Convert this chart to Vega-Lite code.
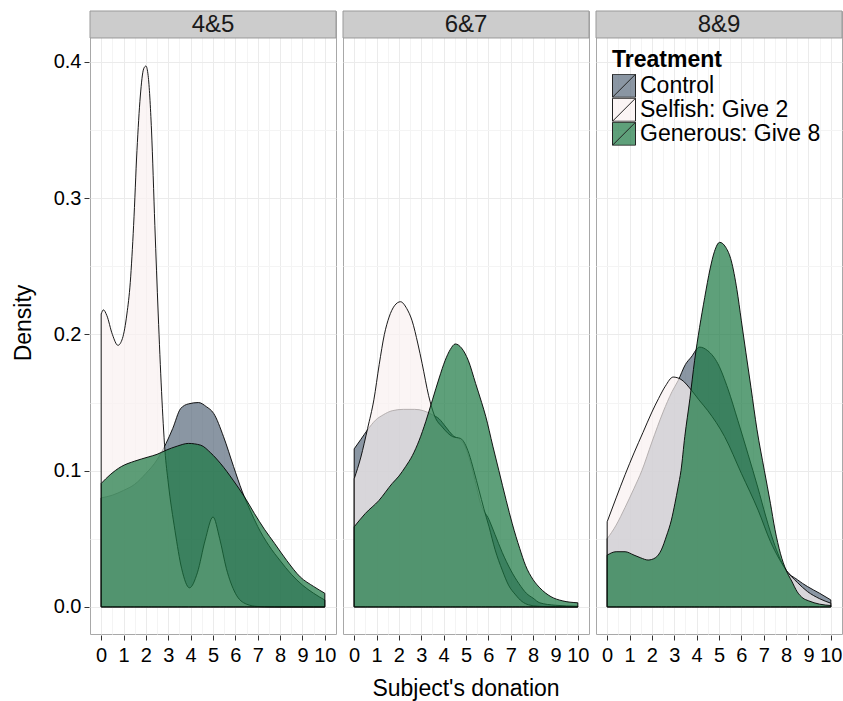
{
  "$schema": "https://vega.github.io/schema/vega-lite/v6.json",
  "padding": {"left": 12, "top": 10, "right": 3, "bottom": 0},
  "autosize": {"type": "pad"},
  "background": "white",
  "config": {
    "font": "Liberation Sans",
    "view": {"stroke": "#a8a8a8", "strokeWidth": 1},
    "axis": {"labelFont": "Liberation Sans", "titleFont": "Liberation Sans"}
  },
  "data": {"values": [
    {"panel":"4&5","treatment":"Control","donation":0,"density":0.080},
    {"panel":"4&5","treatment":"Control","donation":0.5,"density":0.082},
    {"panel":"4&5","treatment":"Control","donation":1,"density":0.0855},
    {"panel":"4&5","treatment":"Control","donation":1.5,"density":0.090},
    {"panel":"4&5","treatment":"Control","donation":2,"density":0.098},
    {"panel":"4&5","treatment":"Control","donation":2.5,"density":0.108},
    {"panel":"4&5","treatment":"Control","donation":2.9,"density":0.120},
    {"panel":"4&5","treatment":"Control","donation":3.2,"density":0.131},
    {"panel":"4&5","treatment":"Control","donation":3.55,"density":0.1455},
    {"panel":"4&5","treatment":"Control","donation":3.9,"density":0.149},
    {"panel":"4&5","treatment":"Control","donation":4.35,"density":0.150},
    {"panel":"4&5","treatment":"Control","donation":4.7,"density":0.147},
    {"panel":"4&5","treatment":"Control","donation":5.03,"density":0.142},
    {"panel":"4&5","treatment":"Control","donation":5.47,"density":0.125},
    {"panel":"4&5","treatment":"Control","donation":5.92,"density":0.103},
    {"panel":"4&5","treatment":"Control","donation":6.3,"density":0.085},
    {"panel":"4&5","treatment":"Control","donation":6.66,"density":0.071},
    {"panel":"4&5","treatment":"Control","donation":7,"density":0.059},
    {"panel":"4&5","treatment":"Control","donation":7.5,"density":0.045},
    {"panel":"4&5","treatment":"Control","donation":8,"density":0.034},
    {"panel":"4&5","treatment":"Control","donation":8.5,"density":0.024},
    {"panel":"4&5","treatment":"Control","donation":9,"density":0.016},
    {"panel":"4&5","treatment":"Control","donation":9.5,"density":0.010},
    {"panel":"4&5","treatment":"Control","donation":10,"density":0.005},
    {"panel":"4&5","treatment":"Selfish: Give 2","donation":0,"density":0.215},
    {"panel":"4&5","treatment":"Selfish: Give 2","donation":0.1,"density":0.218},
    {"panel":"4&5","treatment":"Selfish: Give 2","donation":0.25,"density":0.214},
    {"panel":"4&5","treatment":"Selfish: Give 2","donation":0.5,"density":0.200},
    {"panel":"4&5","treatment":"Selfish: Give 2","donation":0.75,"density":0.192},
    {"panel":"4&5","treatment":"Selfish: Give 2","donation":0.95,"density":0.197},
    {"panel":"4&5","treatment":"Selfish: Give 2","donation":1.15,"density":0.215},
    {"panel":"4&5","treatment":"Selfish: Give 2","donation":1.3,"density":0.238},
    {"panel":"4&5","treatment":"Selfish: Give 2","donation":1.45,"density":0.280},
    {"panel":"4&5","treatment":"Selfish: Give 2","donation":1.6,"density":0.335},
    {"panel":"4&5","treatment":"Selfish: Give 2","donation":1.75,"density":0.375},
    {"panel":"4&5","treatment":"Selfish: Give 2","donation":1.9,"density":0.395},
    {"panel":"4&5","treatment":"Selfish: Give 2","donation":2,"density":0.397},
    {"panel":"4&5","treatment":"Selfish: Give 2","donation":2.1,"density":0.390},
    {"panel":"4&5","treatment":"Selfish: Give 2","donation":2.25,"density":0.350},
    {"panel":"4&5","treatment":"Selfish: Give 2","donation":2.4,"density":0.280},
    {"panel":"4&5","treatment":"Selfish: Give 2","donation":2.55,"density":0.215},
    {"panel":"4&5","treatment":"Selfish: Give 2","donation":2.7,"density":0.158},
    {"panel":"4&5","treatment":"Selfish: Give 2","donation":2.85,"density":0.115},
    {"panel":"4&5","treatment":"Selfish: Give 2","donation":3,"density":0.091},
    {"panel":"4&5","treatment":"Selfish: Give 2","donation":3.3,"density":0.056},
    {"panel":"4&5","treatment":"Selfish: Give 2","donation":3.6,"density":0.028},
    {"panel":"4&5","treatment":"Selfish: Give 2","donation":3.95,"density":0.014},
    {"panel":"4&5","treatment":"Selfish: Give 2","donation":4.3,"density":0.025},
    {"panel":"4&5","treatment":"Selfish: Give 2","donation":4.65,"density":0.049},
    {"panel":"4&5","treatment":"Selfish: Give 2","donation":5,"density":0.066},
    {"panel":"4&5","treatment":"Selfish: Give 2","donation":5.3,"density":0.050},
    {"panel":"4&5","treatment":"Selfish: Give 2","donation":5.6,"density":0.028},
    {"panel":"4&5","treatment":"Selfish: Give 2","donation":6,"density":0.010},
    {"panel":"4&5","treatment":"Selfish: Give 2","donation":6.5,"density":0.002},
    {"panel":"4&5","treatment":"Selfish: Give 2","donation":7,"density":0.0003},
    {"panel":"4&5","treatment":"Selfish: Give 2","donation":8,"density":0},
    {"panel":"4&5","treatment":"Selfish: Give 2","donation":9,"density":0},
    {"panel":"4&5","treatment":"Selfish: Give 2","donation":10,"density":0},
    {"panel":"4&5","treatment":"Generous: Give 8","donation":0,"density":0.0906},
    {"panel":"4&5","treatment":"Generous: Give 8","donation":0.4,"density":0.097},
    {"panel":"4&5","treatment":"Generous: Give 8","donation":0.9,"density":0.103},
    {"panel":"4&5","treatment":"Generous: Give 8","donation":1.5,"density":0.107},
    {"panel":"4&5","treatment":"Generous: Give 8","donation":2.1,"density":0.110},
    {"panel":"4&5","treatment":"Generous: Give 8","donation":2.5,"density":0.112},
    {"panel":"4&5","treatment":"Generous: Give 8","donation":2.9,"density":0.115},
    {"panel":"4&5","treatment":"Generous: Give 8","donation":3.4,"density":0.118},
    {"panel":"4&5","treatment":"Generous: Give 8","donation":3.9,"density":0.120},
    {"panel":"4&5","treatment":"Generous: Give 8","donation":4.45,"density":0.1187},
    {"panel":"4&5","treatment":"Generous: Give 8","donation":4.9,"density":0.113},
    {"panel":"4&5","treatment":"Generous: Give 8","donation":5.35,"density":0.105},
    {"panel":"4&5","treatment":"Generous: Give 8","donation":5.9,"density":0.093},
    {"panel":"4&5","treatment":"Generous: Give 8","donation":6.4,"density":0.081},
    {"panel":"4&5","treatment":"Generous: Give 8","donation":6.85,"density":0.0686},
    {"panel":"4&5","treatment":"Generous: Give 8","donation":7.3,"density":0.057},
    {"panel":"4&5","treatment":"Generous: Give 8","donation":7.75,"density":0.0467},
    {"panel":"4&5","treatment":"Generous: Give 8","donation":8.3,"density":0.034},
    {"panel":"4&5","treatment":"Generous: Give 8","donation":8.9,"density":0.022},
    {"panel":"4&5","treatment":"Generous: Give 8","donation":9.5,"density":0.015},
    {"panel":"4&5","treatment":"Generous: Give 8","donation":10,"density":0.010},
    {"panel":"6&7","treatment":"Control","donation":0,"density":0.116},
    {"panel":"6&7","treatment":"Control","donation":0.3,"density":0.123},
    {"panel":"6&7","treatment":"Control","donation":0.6,"density":0.130},
    {"panel":"6&7","treatment":"Control","donation":0.95,"density":0.137},
    {"panel":"6&7","treatment":"Control","donation":1.3,"density":0.141},
    {"panel":"6&7","treatment":"Control","donation":1.7,"density":0.144},
    {"panel":"6&7","treatment":"Control","donation":2.2,"density":0.145},
    {"panel":"6&7","treatment":"Control","donation":2.7,"density":0.145},
    {"panel":"6&7","treatment":"Control","donation":3.1,"density":0.144},
    {"panel":"6&7","treatment":"Control","donation":3.5,"density":0.141},
    {"panel":"6&7","treatment":"Control","donation":3.8,"density":0.138},
    {"panel":"6&7","treatment":"Control","donation":4.1,"density":0.132},
    {"panel":"6&7","treatment":"Control","donation":4.4,"density":0.126},
    {"panel":"6&7","treatment":"Control","donation":4.85,"density":0.121},
    {"panel":"6&7","treatment":"Control","donation":5.13,"density":0.110},
    {"panel":"6&7","treatment":"Control","donation":5.4,"density":0.093},
    {"panel":"6&7","treatment":"Control","donation":5.65,"density":0.076},
    {"panel":"6&7","treatment":"Control","donation":6.03,"density":0.064},
    {"panel":"6&7","treatment":"Control","donation":6.3,"density":0.053},
    {"panel":"6&7","treatment":"Control","donation":6.62,"density":0.040},
    {"panel":"6&7","treatment":"Control","donation":7,"density":0.027},
    {"panel":"6&7","treatment":"Control","donation":7.37,"density":0.017},
    {"panel":"6&7","treatment":"Control","donation":7.7,"density":0.010},
    {"panel":"6&7","treatment":"Control","donation":8,"density":0.0064},
    {"panel":"6&7","treatment":"Control","donation":8.3,"density":0.003},
    {"panel":"6&7","treatment":"Control","donation":9,"density":0.0012},
    {"panel":"6&7","treatment":"Control","donation":10,"density":0.0005},
    {"panel":"6&7","treatment":"Selfish: Give 2","donation":0,"density":0.094},
    {"panel":"6&7","treatment":"Selfish: Give 2","donation":0.3,"density":0.110},
    {"panel":"6&7","treatment":"Selfish: Give 2","donation":0.6,"density":0.131},
    {"panel":"6&7","treatment":"Selfish: Give 2","donation":0.88,"density":0.152},
    {"panel":"6&7","treatment":"Selfish: Give 2","donation":1.12,"density":0.178},
    {"panel":"6&7","treatment":"Selfish: Give 2","donation":1.35,"density":0.200},
    {"panel":"6&7","treatment":"Selfish: Give 2","donation":1.56,"density":0.2127},
    {"panel":"6&7","treatment":"Selfish: Give 2","donation":1.8,"density":0.221},
    {"panel":"6&7","treatment":"Selfish: Give 2","donation":2.07,"density":0.224},
    {"panel":"6&7","treatment":"Selfish: Give 2","donation":2.35,"density":0.219},
    {"panel":"6&7","treatment":"Selfish: Give 2","donation":2.59,"density":0.210},
    {"panel":"6&7","treatment":"Selfish: Give 2","donation":2.85,"density":0.193},
    {"panel":"6&7","treatment":"Selfish: Give 2","donation":3.04,"density":0.1785},
    {"panel":"6&7","treatment":"Selfish: Give 2","donation":3.33,"density":0.155},
    {"panel":"6&7","treatment":"Selfish: Give 2","donation":3.6,"density":0.140},
    {"panel":"6&7","treatment":"Selfish: Give 2","donation":3.94,"density":0.132},
    {"panel":"6&7","treatment":"Selfish: Give 2","donation":4.4,"density":0.125},
    {"panel":"6&7","treatment":"Selfish: Give 2","donation":4.76,"density":0.1236},
    {"panel":"6&7","treatment":"Selfish: Give 2","donation":5.13,"density":0.1126},
    {"panel":"6&7","treatment":"Selfish: Give 2","donation":5.35,"density":0.100},
    {"panel":"6&7","treatment":"Selfish: Give 2","donation":5.58,"density":0.0857},
    {"panel":"6&7","treatment":"Selfish: Give 2","donation":5.8,"density":0.072},
    {"panel":"6&7","treatment":"Selfish: Give 2","donation":6.03,"density":0.0588},
    {"panel":"6&7","treatment":"Selfish: Give 2","donation":6.3,"density":0.042},
    {"panel":"6&7","treatment":"Selfish: Give 2","donation":6.62,"density":0.027},
    {"panel":"6&7","treatment":"Selfish: Give 2","donation":6.9,"density":0.016},
    {"panel":"6&7","treatment":"Selfish: Give 2","donation":7.22,"density":0.0088},
    {"panel":"6&7","treatment":"Selfish: Give 2","donation":7.5,"density":0.004},
    {"panel":"6&7","treatment":"Selfish: Give 2","donation":7.8,"density":0.0015},
    {"panel":"6&7","treatment":"Selfish: Give 2","donation":8.2,"density":0.0005},
    {"panel":"6&7","treatment":"Selfish: Give 2","donation":9,"density":0},
    {"panel":"6&7","treatment":"Selfish: Give 2","donation":10,"density":0},
    {"panel":"6&7","treatment":"Generous: Give 8","donation":0,"density":0.0588},
    {"panel":"6&7","treatment":"Generous: Give 8","donation":0.5,"density":0.0686},
    {"panel":"6&7","treatment":"Generous: Give 8","donation":1.1,"density":0.078},
    {"panel":"6&7","treatment":"Generous: Give 8","donation":1.7,"density":0.0906},
    {"panel":"6&7","treatment":"Generous: Give 8","donation":2,"density":0.096},
    {"panel":"6&7","treatment":"Generous: Give 8","donation":2.3,"density":0.103},
    {"panel":"6&7","treatment":"Generous: Give 8","donation":2.6,"density":0.111},
    {"panel":"6&7","treatment":"Generous: Give 8","donation":2.9,"density":0.122},
    {"panel":"6&7","treatment":"Generous: Give 8","donation":3.2,"density":0.136},
    {"panel":"6&7","treatment":"Generous: Give 8","donation":3.5,"density":0.152},
    {"panel":"6&7","treatment":"Generous: Give 8","donation":3.8,"density":0.168},
    {"panel":"6&7","treatment":"Generous: Give 8","donation":4.07,"density":0.181},
    {"panel":"6&7","treatment":"Generous: Give 8","donation":4.3,"density":0.189},
    {"panel":"6&7","treatment":"Generous: Give 8","donation":4.52,"density":0.193},
    {"panel":"6&7","treatment":"Generous: Give 8","donation":4.8,"density":0.190},
    {"panel":"6&7","treatment":"Generous: Give 8","donation":5.1,"density":0.181},
    {"panel":"6&7","treatment":"Generous: Give 8","donation":5.43,"density":0.164},
    {"panel":"6&7","treatment":"Generous: Give 8","donation":5.7,"density":0.150},
    {"panel":"6&7","treatment":"Generous: Give 8","donation":5.88,"density":0.140},
    {"panel":"6&7","treatment":"Generous: Give 8","donation":6.2,"density":0.118},
    {"panel":"6&7","treatment":"Generous: Give 8","donation":6.47,"density":0.100},
    {"panel":"6&7","treatment":"Generous: Give 8","donation":6.8,"density":0.078},
    {"panel":"6&7","treatment":"Generous: Give 8","donation":7.07,"density":0.061},
    {"panel":"6&7","treatment":"Generous: Give 8","donation":7.4,"density":0.043},
    {"panel":"6&7","treatment":"Generous: Give 8","donation":7.66,"density":0.0305},
    {"panel":"6&7","treatment":"Generous: Give 8","donation":8,"density":0.020},
    {"panel":"6&7","treatment":"Generous: Give 8","donation":8.3,"density":0.014},
    {"panel":"6&7","treatment":"Generous: Give 8","donation":8.8,"density":0.0075},
    {"panel":"6&7","treatment":"Generous: Give 8","donation":9.3,"density":0.0045},
    {"panel":"6&7","treatment":"Generous: Give 8","donation":10,"density":0.003},
    {"panel":"8&9","treatment":"Control","donation":0,"density":0.050},
    {"panel":"8&9","treatment":"Control","donation":0.4,"density":0.060},
    {"panel":"8&9","treatment":"Control","donation":0.8,"density":0.073},
    {"panel":"8&9","treatment":"Control","donation":1.2,"density":0.087},
    {"panel":"8&9","treatment":"Control","donation":1.55,"density":0.100},
    {"panel":"8&9","treatment":"Control","donation":2,"density":0.121},
    {"panel":"8&9","treatment":"Control","donation":2.5,"density":0.143},
    {"panel":"8&9","treatment":"Control","donation":2.9,"density":0.158},
    {"panel":"8&9","treatment":"Control","donation":3.17,"density":0.166},
    {"panel":"8&9","treatment":"Control","donation":3.5,"density":0.178},
    {"panel":"8&9","treatment":"Control","donation":3.76,"density":0.1834},
    {"panel":"8&9","treatment":"Control","donation":4.13,"density":0.1907},
    {"panel":"8&9","treatment":"Control","donation":4.5,"density":0.188},
    {"panel":"8&9","treatment":"Control","donation":4.95,"density":0.1785},
    {"panel":"8&9","treatment":"Control","donation":5.4,"density":0.160},
    {"panel":"8&9","treatment":"Control","donation":5.84,"density":0.137},
    {"panel":"8&9","treatment":"Control","donation":6.3,"density":0.112},
    {"panel":"8&9","treatment":"Control","donation":6.73,"density":0.088},
    {"panel":"8&9","treatment":"Control","donation":7.1,"density":0.066},
    {"panel":"8&9","treatment":"Control","donation":7.5,"density":0.045},
    {"panel":"8&9","treatment":"Control","donation":8,"density":0.027},
    {"panel":"8&9","treatment":"Control","donation":8.5,"density":0.020},
    {"panel":"8&9","treatment":"Control","donation":8.96,"density":0.0149},
    {"panel":"8&9","treatment":"Control","donation":9.5,"density":0.010},
    {"panel":"8&9","treatment":"Control","donation":10,"density":0.0051},
    {"panel":"8&9","treatment":"Selfish: Give 2","donation":0,"density":0.0625},
    {"panel":"8&9","treatment":"Selfish: Give 2","donation":0.4,"density":0.080},
    {"panel":"8&9","treatment":"Selfish: Give 2","donation":0.8,"density":0.097},
    {"panel":"8&9","treatment":"Selfish: Give 2","donation":1.2,"density":0.113},
    {"panel":"8&9","treatment":"Selfish: Give 2","donation":1.6,"density":0.128},
    {"panel":"8&9","treatment":"Selfish: Give 2","donation":2,"density":0.143},
    {"panel":"8&9","treatment":"Selfish: Give 2","donation":2.3,"density":0.153},
    {"panel":"8&9","treatment":"Selfish: Give 2","donation":2.6,"density":0.162},
    {"panel":"8&9","treatment":"Selfish: Give 2","donation":2.95,"density":0.1687},
    {"panel":"8&9","treatment":"Selfish: Give 2","donation":3.3,"density":0.167},
    {"panel":"8&9","treatment":"Selfish: Give 2","donation":3.77,"density":0.159},
    {"panel":"8&9","treatment":"Selfish: Give 2","donation":4.1,"density":0.152},
    {"panel":"8&9","treatment":"Selfish: Give 2","donation":4.5,"density":0.144},
    {"panel":"8&9","treatment":"Selfish: Give 2","donation":5.25,"density":0.125},
    {"panel":"8&9","treatment":"Selfish: Give 2","donation":6,"density":0.098},
    {"panel":"8&9","treatment":"Selfish: Give 2","donation":6.75,"density":0.071},
    {"panel":"8&9","treatment":"Selfish: Give 2","donation":7.3,"density":0.048},
    {"panel":"8&9","treatment":"Selfish: Give 2","donation":7.7,"density":0.035},
    {"panel":"8&9","treatment":"Selfish: Give 2","donation":8,"density":0.027},
    {"panel":"8&9","treatment":"Selfish: Give 2","donation":8.5,"density":0.018},
    {"panel":"8&9","treatment":"Selfish: Give 2","donation":8.96,"density":0.0112},
    {"panel":"8&9","treatment":"Selfish: Give 2","donation":9.5,"density":0.006},
    {"panel":"8&9","treatment":"Selfish: Give 2","donation":10,"density":0.0027},
    {"panel":"8&9","treatment":"Generous: Give 8","donation":0,"density":0.038},
    {"panel":"8&9","treatment":"Generous: Give 8","donation":0.4,"density":0.0405},
    {"panel":"8&9","treatment":"Generous: Give 8","donation":0.8,"density":0.0405},
    {"panel":"8&9","treatment":"Generous: Give 8","donation":1.2,"density":0.038},
    {"panel":"8&9","treatment":"Generous: Give 8","donation":1.5,"density":0.036},
    {"panel":"8&9","treatment":"Generous: Give 8","donation":1.83,"density":0.0344},
    {"panel":"8&9","treatment":"Generous: Give 8","donation":2.15,"density":0.036},
    {"panel":"8&9","treatment":"Generous: Give 8","donation":2.42,"density":0.0418},
    {"panel":"8&9","treatment":"Generous: Give 8","donation":2.65,"density":0.052},
    {"panel":"8&9","treatment":"Generous: Give 8","donation":2.87,"density":0.0637},
    {"panel":"8&9","treatment":"Generous: Give 8","donation":3.03,"density":0.076},
    {"panel":"8&9","treatment":"Generous: Give 8","donation":3.17,"density":0.088},
    {"panel":"8&9","treatment":"Generous: Give 8","donation":3.3,"density":0.100},
    {"panel":"8&9","treatment":"Generous: Give 8","donation":3.47,"density":0.125},
    {"panel":"8&9","treatment":"Generous: Give 8","donation":3.7,"density":0.153},
    {"panel":"8&9","treatment":"Generous: Give 8","donation":3.91,"density":0.181},
    {"panel":"8&9","treatment":"Generous: Give 8","donation":4.13,"density":0.205},
    {"panel":"8&9","treatment":"Generous: Give 8","donation":4.36,"density":0.227},
    {"panel":"8&9","treatment":"Generous: Give 8","donation":4.6,"density":0.248},
    {"panel":"8&9","treatment":"Generous: Give 8","donation":4.8,"density":0.261},
    {"panel":"8&9","treatment":"Generous: Give 8","donation":5.03,"density":0.2676},
    {"panel":"8&9","treatment":"Generous: Give 8","donation":5.3,"density":0.264},
    {"panel":"8&9","treatment":"Generous: Give 8","donation":5.55,"density":0.254},
    {"panel":"8&9","treatment":"Generous: Give 8","donation":5.8,"density":0.233},
    {"panel":"8&9","treatment":"Generous: Give 8","donation":6,"density":0.210},
    {"panel":"8&9","treatment":"Generous: Give 8","donation":6.2,"density":0.187},
    {"panel":"8&9","treatment":"Generous: Give 8","donation":6.43,"density":0.161},
    {"panel":"8&9","treatment":"Generous: Give 8","donation":6.7,"density":0.130},
    {"panel":"8&9","treatment":"Generous: Give 8","donation":7.03,"density":0.100},
    {"panel":"8&9","treatment":"Generous: Give 8","donation":7.3,"density":0.076},
    {"panel":"8&9","treatment":"Generous: Give 8","donation":7.5,"density":0.057},
    {"panel":"8&9","treatment":"Generous: Give 8","donation":7.75,"density":0.039},
    {"panel":"8&9","treatment":"Generous: Give 8","donation":8,"density":0.027},
    {"panel":"8&9","treatment":"Generous: Give 8","donation":8.25,"density":0.019},
    {"panel":"8&9","treatment":"Generous: Give 8","donation":8.5,"density":0.011},
    {"panel":"8&9","treatment":"Generous: Give 8","donation":8.75,"density":0.0065},
    {"panel":"8&9","treatment":"Generous: Give 8","donation":9,"density":0.0045},
    {"panel":"8&9","treatment":"Generous: Give 8","donation":9.5,"density":0.002},
    {"panel":"8&9","treatment":"Generous: Give 8","donation":10,"density":0.001}
  ]},
  "facet": {
    "column": {
      "field": "panel", "type": "nominal", "sort": ["4&5", "6&7", "8&9"],
      "header": {
        "title": "Subject's donation", "titleOrient": "bottom", "labels": false,
        "titleFontSize": 23, "titleFontWeight": "normal", "titleColor": "black",
        "titleFont": "Liberation Sans", "titlePadding": 3
      }
    }
  },
  "spacing": 5,
  "spec": {
    "width": 246,
    "height": 623,
    "encoding": {
      "x": {
        "field": "donation", "type": "quantitative",
        "scale": {"domain": [-0.5, 10.5], "nice": false, "zero": false},
        "axis": {
          "title": null,
          "values": [0,0.5,1,1.5,2,2.5,3,3.5,4,4.5,5,5.5,6,6.5,7,7.5,8,8.5,9,9.5,10],
          "format": ".0f",
          "labelExpr": "datum.value % 1 == 0 ? datum.label : ''",
          "tickOpacity": {"condition": {"test": "datum.value % 1 != 0", "value": 0}, "value": 1},
          "gridColor": {"condition": {"test": "datum.value % 1 != 0", "value": "#f4f4f4"}, "value": "#ebebeb"},
          "domain": false, "tickColor": "#333333", "tickSize": 5,
          "labelFontSize": 20, "labelColor": "black", "labelPadding": 5, "labelFlush": false, "labelOverlap": false
        }
      },
      "y": {
        "field": "density", "type": "quantitative",
        "scale": {"domain": [-0.0199, 0.4374], "nice": false, "zero": false},
        "axis": {
          "title": "Density",
          "values": [0,0.05,0.1,0.15,0.2,0.25,0.3,0.35,0.4],
          "format": ".1f",
          "labelExpr": "round(datum.value*100) % 10 == 0 ? datum.label : ''",
          "tickOpacity": {"condition": {"test": "round(datum.value*100) % 10 != 0", "value": 0}, "value": 1},
          "gridColor": {"condition": {"test": "round(datum.value*100) % 10 != 0", "value": "#f4f4f4"}, "value": "#ebebeb"},
          "domain": false, "tickColor": "#333333", "tickSize": 5,
          "labelFontSize": 20, "labelColor": "black", "labelPadding": 3, "labelFlush": false, "labelOverlap": false,
          "titleFontSize": 23, "titleFontWeight": "normal", "titleColor": "black", "titlePadding": 18
        }
      }
    },
    "layer": [
      {
        "transform": [{"filter": "datum.treatment == 'Control'"}],
        "mark": {"type": "area", "interpolate": "monotone", "fillOpacity": 0.7, "stroke": "black", "strokeWidth": 0.9},
        "encoding": {
          "y2": {"datum": 0},
          "color": {
            "field": "treatment", "type": "nominal",
            "scale": {"domain": ["Control", "Selfish: Give 2", "Generous: Give 8"], "range": ["#58697c", "#f9f1f1", "#1a7741"]},
            "legend": {
              "title": "Treatment", "orient": "none", "legendX": 522, "legendY": 38,
              "titleFontSize": 23, "titleFontWeight": "bold", "titleColor": "black", "titleFont": "Liberation Sans",
              "labelFontSize": 23, "labelColor": "black", "labelFont": "Liberation Sans", "labelLimit": 0,
              "symbolType": "M-1,-1H1V1H-1Z M-1,1L1,-1", "symbolSize": 529,
              "symbolStrokeWidth": 1, "symbolStrokeColor": "black",
              "clipHeight": 23.5, "rowPadding": 0, "labelOffset": 4, "titlePadding": 2, "padding": 0, "symbolOffset": 0,
              "encode": {"symbols": {"update": {"fillOpacity": {"value": 0.7}, "stroke": {"value": "#222222"}, "strokeWidth": {"value": 1}}}}
            }
          }
        }
      },
      {
        "transform": [{"filter": "datum.treatment == 'Selfish: Give 2'"}],
        "mark": {"type": "area", "interpolate": "monotone", "fillOpacity": 0.7, "stroke": "black", "strokeWidth": 0.9},
        "encoding": {"y2": {"datum": 0}, "color": {"field": "treatment", "type": "nominal"}}
      },
      {
        "transform": [{"filter": "datum.treatment == 'Generous: Give 8'"}],
        "mark": {"type": "area", "interpolate": "monotone", "fillOpacity": 0.7, "stroke": "black", "strokeWidth": 0.9},
        "encoding": {"y2": {"datum": 0}, "color": {"field": "treatment", "type": "nominal"}}
      },
      {
        "transform": [{"filter": "datum.treatment == 'Control' && datum.donation == 0"}],
        "mark": {"type": "rect", "fill": "#cccccc", "stroke": "#999999", "strokeWidth": 1},
        "encoding": {
          "x": {"datum": -0.5, "type": "quantitative"},
          "x2": {"datum": 10.5},
          "y": {"datum": 0.4176, "type": "quantitative"},
          "y2": {"datum": 0.4374}
        }
      },
      {
        "transform": [{"filter": "datum.treatment == 'Control' && datum.donation == 0"}],
        "mark": {"type": "text", "fontSize": 24, "color": "#1a1a1a", "font": "Liberation Sans", "baseline": "middle", "align": "center", "dy": 1},
        "encoding": {
          "x": {"datum": 5, "type": "quantitative"},
          "y": {"datum": 0.4275, "type": "quantitative"},
          "text": {"field": "panel", "type": "nominal"}
        }
      }
    ]
  }
}
